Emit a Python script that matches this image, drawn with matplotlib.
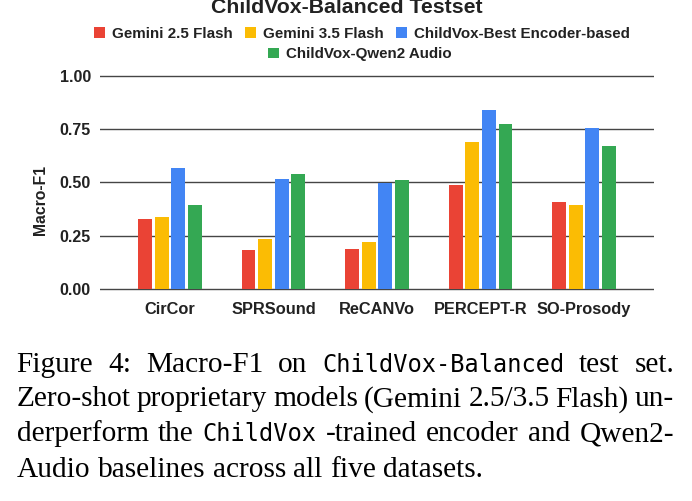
import matplotlib
matplotlib.use('Agg')
import matplotlib.pyplot as plt
import numpy as np

# fonts: Arial-like for the chart, Times-like for the caption
plt.rcParams['font.family'] = ['Liberation Sans', 'DejaVu Sans']

# data
datasets = ['CirCor', 'SPRSound', 'ReCANVo', 'PERCEPT-R', 'SO-Prosody']
models = ['Gemini 2.5 Flash', 'Gemini 3.5 Flash',
          'ChildVox-Best Encoder-based', 'ChildVox-Qwen2 Audio']
gemini25 = [0.327, 0.183, 0.188, 0.487, 0.410]
gemini35 = [0.340, 0.236, 0.221, 0.690, 0.393]
best_encoder = [0.570, 0.518, 0.496, 0.841, 0.756]
qwen2_audio = [0.393, 0.538, 0.513, 0.776, 0.670]
colors = ['#EA4335', '#FBBC04', '#4285F4', '#34A853']
yticks = [0.0, 0.25, 0.5, 0.75, 1.0]

W, H = 692, 501
fig = plt.figure(figsize=(W / 100, H / 100), dpi=100)
fig.patch.set_facecolor('white')

# axes placed in pixel terms
ax = fig.add_axes([100 / W, 1 - 291.1 / H, 554 / W, 217.3 / H])

x = np.arange(len(datasets))
step = 0.161
bw = 0.135
series = [gemini25, gemini35, best_encoder, qwen2_audio]
bars = []
for i, vals in enumerate(series):
    b = ax.bar(x + (i - 1.5) * step, vals, width=bw, color=colors[i],
               label=models[i], zorder=3)
    bars.append(b)

ax.set_xlim(-0.676, 4.676)
ax.set_ylim(-0.01, 1.01)
ax.set_yticks(yticks)
ax.set_yticklabels(['%.2f' % v for v in yticks])
ax.set_xticks(x)
ax.set_xticklabels(datasets)

txt = '#222222'
ax.yaxis.grid(True, color='#454545', linewidth=1.0)
ax.set_axisbelow(True)
for s in ax.spines.values():
    s.set_visible(False)
ax.tick_params(axis='both', length=0, colors=txt)
ax.tick_params(axis='y', pad=6.5, labelsize=11.5)
ax.tick_params(axis='x', pad=7.5, labelsize=11.8)
for lab in ax.get_xticklabels() + ax.get_yticklabels():
    lab.set_fontweight('bold')

fig.text(41 / W, 1 - 199.5 / H, 'Macro-F1', rotation=90, ha='center',
         va='center', fontsize=11.3, fontweight='bold', color=txt)

fig.text(347 / W, 1 - 12.7 / H, 'ChildVox-Balanced Testset', ha='center',
         va='baseline', fontsize=15.3, fontweight='bold', color=txt)

# legend: three on the first row, one centred on the second
leg_kw = dict(frameon=False, loc='center', handlelength=0.7, handleheight=0.7,
              handletextpad=0.5, columnspacing=0.8, borderaxespad=0,
              borderpad=0, prop={'weight': 'bold', 'size': 10.9})
leg1 = fig.legend(handles=bars[:3], labels=models[:3], ncol=3,
                  bbox_to_anchor=(362 / W, 1 - 33.7 / H), **leg_kw)
leg2 = fig.legend(handles=bars[3:], labels=models[3:], ncol=1,
                  bbox_to_anchor=(360 / W, 1 - 54.3 / H), **leg_kw)
for lg in (leg1, leg2):
    for t in lg.get_texts():
        t.set_color(txt)

# caption below the chart, justified like the paper
serif = ['Liberation Serif', 'DejaVu Serif']
mono = ['DejaVu Sans Mono']
caption_lines = [
    [('Figure', 's'), ('4:', 's'), ('Macro-F1', 's'), ('on', 's'),
     ('ChildVox-Balanced', 'm'), ('test', 's'), ('set.', 's')],
    [('Zero-shot', 's'), ('proprietary', 's'), ('models', 's'),
     ('(Gemini', 's'), ('2.5/3.5', 's'), ('Flash)', 's'), ('un-', 's')],
    [('derperform', 's'), ('the', 's'), ('ChildVox', 'm'),
     ('-trained', 's'), ('encoder', 's'), ('and', 's'), ('Qwen2-', 's')],
    [('Audio', 's'), ('baselines', 's'), ('across', 's'), ('all', 's'),
     ('five', 's'), ('datasets.', 's')],
]
baselines = [371.7, 406.3, 441.3, 476.7]
x_left, x_right = 16.7, 674.0
cap_size = 21.2
renderer = fig.canvas.get_renderer()
for li, (words, yb) in enumerate(zip(caption_lines, baselines)):
    items = []
    for w, f in words:
        t = fig.text(0, 1 - yb / H, w, va='baseline', ha='left',
                     family=serif if f == 's' else mono,
                     fontsize=cap_size if f == 's' else 17.0, color='black')
        items.append(t)
    widths = [t.get_window_extent(renderer).width for t in items]
    if li < len(caption_lines) - 1:
        gap = (x_right - x_left - sum(widths)) / (len(items) - 1)
    else:
        gap = 0.25 * cap_size * 100 / 72
    xpos = x_left
    for t, wd in zip(items, widths):
        t.set_x(xpos / W)
        xpos += wd + gap

fig.savefig('out.png', dpi=100, facecolor='white')
